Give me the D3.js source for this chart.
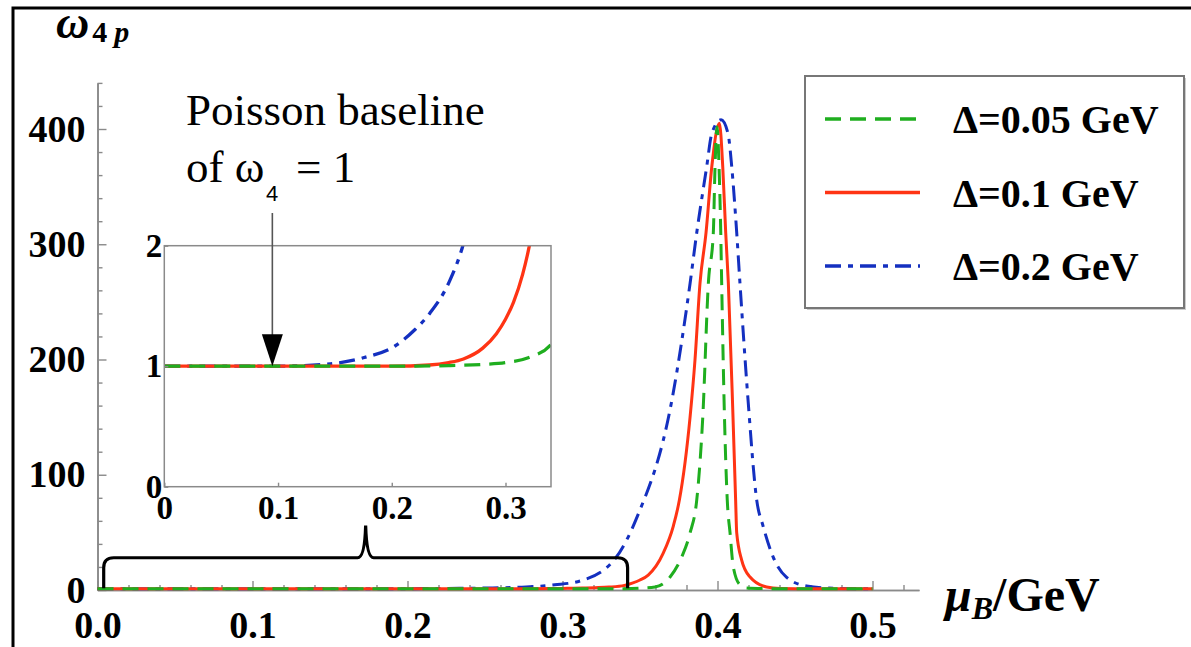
<!DOCTYPE html>
<html>
<head>
<meta charset="utf-8">
<script src="https://cdn.jsdelivr.net/npm/d3@7"></script>
<style>
  body { margin: 0; background: #fff; }
  svg { display: block; }
  text { font-family: "Liberation Serif", "Times New Roman", serif; }
</style>
</head>
<body>
<svg id="chart" width="1191" height="647"></svg>
<script>
// ---- data: fourth-order scaled cumulant omega_4 of the proton vs baryon chemical potential ----
const seriesNames = ["Δ=0.05 GeV", "Δ=0.1 GeV", "Δ=0.2 GeV"];

const muD005 = [0, 0.05, 0.10, 0.15, 0.20, 0.25, 0.28, 0.30, 0.32, 0.34, 0.35, 0.3597, 0.3694, 0.3769, 0.3823, 0.3866,
  0.3905, 0.3941, 0.3973, 0.3984, 0.3997, 0.4010, 0.4021, 0.4027, 0.4045, 0.4063, 0.4081, 0.4102, 0.4145, 0.4188, 0.43, 0.45, 0.50];
const wD005 = [1, 1, 1, 1, 1, 1.005, 1.015, 1.03, 1.07, 1.18, 1.6, 2.6, 11.3, 28.6, 49.5, 78,
  150, 266, 310, 367, 402, 367, 310, 266, 150, 78, 49.5, 20, 4.5, 1.7, 1.2, 1, 1];

const muD01 = [0, 0.05, 0.10, 0.15, 0.20, 0.233, 0.25, 0.263, 0.28, 0.292, 0.30, 0.307, 0.315, 0.321, 0.33, 0.34, 0.345, 0.35,
  0.3553, 0.365, 0.3715, 0.3754, 0.3823, 0.3855, 0.3887, 0.3926, 0.3963, 0.4012, 0.4034, 0.4053, 0.4070, 0.41, 0.4117,
  0.4124, 0.4156, 0.4210, 0.4317, 0.4403, 0.46, 0.50];
const wD01 = [1, 1, 1, 1, 1, 1.01, 1.03, 1.06, 1.15, 1.27, 1.39, 1.53, 1.76, 2.0, 2.5, 4.0, 6.0, 8.7,
  13, 32, 55.5, 78, 150, 200, 266, 310, 367, 405, 367, 310, 266, 150, 78,
  49.5, 26, 11.3, 2.6, 1.3, 1, 1];

const muD02 = [0, 0.05, 0.10, 0.146, 0.175, 0.204, 0.22, 0.2335, 0.251, 0.2625, 0.2765, 0.295, 0.3113, 0.3343, 0.348, 0.3706,
  0.3823, 0.3866, 0.393, 0.3963, 0.4023, 0.4068, 0.4092, 0.4124, 0.4145, 0.4197, 0.4253, 0.4294, 0.4358, 0.4446, 0.4575, 0.479, 0.50];
const wD02 = [1, 1, 1, 1.02, 1.07, 1.175, 1.3, 1.44, 1.71, 2.0, 2.6, 4.5, 7.8, 27.8, 63, 165,
  266, 310, 367, 396, 408, 396, 367, 310, 266, 165, 78, 55.5, 29, 11, 3.5, 1.3, 1];

const seriesColors = ["#1fae1f", "#ff3414", "#1430c0"];
const seriesDashes = ["16,9", null, "16,7,5,7"];

// axis ticks
const xMajorTicks = [0, 0.1, 0.2, 0.3, 0.4, 0.5];
const xTickLabels = ["0.0", "0.1", "0.2", "0.3", "0.4", "0.5"];
const yMajorTicks = [0, 100, 200, 300, 400];
const insetXTicks = [0, 0.1, 0.2, 0.3];
const insetXLabels = ["0", "0.1", "0.2", "0.3"];
const insetYTicks = [0, 1, 2];

// curly brace marking the zoomed range, in data units
const braceFrom = 0.004, braceTo = 0.342, braceMid = 0.173, braceLevel = 28, braceTip = 56, braceFoot = 1.5;
const arrowMu = 0.095, baselineValue = 1;

// ---- layout ----
const svg = d3.select("#chart");

// outer frame
svg.append("rect").attr("x", 13).attr("y", 8).attr("width", 1300).attr("height", 800)
  .attr("fill", "none").attr("stroke", "#000").attr("stroke-width", 3);

const x = d3.scaleLinear().domain([0, 0.53]).range([97.5, 919]);
const y = d3.scaleLinear().domain([0, 440]).range([590, 82.9]);

const series = [
  { name: seriesNames[2], mu: muD02, w: wD02, color: seriesColors[2], dash: seriesDashes[2] },
  { name: seriesNames[1], mu: muD01, w: wD01, color: seriesColors[1], dash: seriesDashes[1] },
  { name: seriesNames[0], mu: muD005, w: wD005, color: seriesColors[0], dash: seriesDashes[0] }
];

const axisColor = "#8a8a8a";
function styleAxis(g) {
  g.selectAll("path.domain").attr("stroke", axisColor).attr("stroke-width", 1.6);
  g.selectAll(".tick line").attr("stroke", axisColor).attr("stroke-width", 1.4);
}
function boldLabels(g, size) {
  g.selectAll("text").attr("fill", "#000").style("font-size", size + "px").style("font-weight", "bold")
    .style("font-family", "'Liberation Serif', serif");
}

// minor ticks
const xMinor = d3.range(0, 0.5301, 0.02).filter(v => !xMajorTicks.some(m => Math.abs(m - v) < 1e-6));
const yMinor = d3.range(0, 441, 20).filter(v => v % 100 !== 0);

svg.append("g").attr("transform", "translate(0,590)")
  .call(d3.axisBottom(x).tickValues(xMinor).tickSize(-5).tickSizeOuter(0).tickFormat(""))
  .call(styleAxis);
svg.append("g").attr("transform", "translate(97.5,0)")
  .call(d3.axisLeft(y).tickValues(yMinor).tickSize(-5).tickSizeOuter(0).tickFormat(""))
  .call(styleAxis);

svg.append("g").attr("transform", "translate(0,590)")
  .call(d3.axisBottom(x).tickValues(xMajorTicks).tickSize(-9).tickSizeOuter(0).tickPadding(21)
    .tickFormat((d, i) => xTickLabels[i]))
  .call(styleAxis).call(g => boldLabels(g, 38));

svg.append("g").attr("transform", "translate(97.5,0)")
  .call(d3.axisLeft(y).tickValues(yMajorTicks).tickSize(-9).tickSizeOuter(0).tickPadding(12))
  .call(styleAxis).call(g => boldLabels(g, 38));

// axis titles
const yTitle = svg.append("text").attr("x", 56).attr("y", 38).attr("fill", "#000").style("font-weight", "bold");
yTitle.append("tspan").text("ω").style("font-size", "46px").style("font-style", "italic");
yTitle.append("tspan").text("4").attr("dx", 3).attr("dy", 4).style("font-size", "30px");
yTitle.append("tspan").text("p").attr("dx", 7).style("font-size", "30px").style("font-style", "italic");

const xTitle = svg.append("text").attr("x", 945).attr("y", 611).attr("fill", "#000").style("font-weight", "bold");
xTitle.append("tspan").text("μ").style("font-size", "48px").style("font-style", "italic");
xTitle.append("tspan").text("B").attr("dy", 8).style("font-size", "32px").style("font-style", "italic");
xTitle.append("tspan").text("/GeV").attr("dy", -8).style("font-size", "48px");

// curves
const line = (sx, sy) => d3.line().x(d => sx(d[0])).y(d => sy(d[1])).curve(d3.curveMonotoneX);
const mainLine = line(x, y);
series.forEach(s => {
  svg.append("path").datum(d3.zip(s.mu, s.w))
    .attr("d", mainLine).attr("fill", "none")
    .attr("stroke", s.color).attr("stroke-width", 3)
    .attr("stroke-dasharray", s.dash);
});

// brace over the low-mu range
const bx0 = x(braceFrom), bx1 = x(braceTo), bxm = x(braceMid);
const byl = y(braceLevel), byt = y(braceTip), byf = y(braceFoot), r = 10;
svg.append("path")
  .attr("d", `M${bx0},${byf} L${bx0},${byl + r} Q${bx0},${byl} ${bx0 + r},${byl} L${bxm - 8},${byl}` +
    ` Q${bxm - 1},${byl} ${bxm},${byt} Q${bxm + 1},${byl} ${bxm + 8},${byl}` +
    ` L${bx1 - r},${byl} Q${bx1},${byl} ${bx1},${byl + r} L${bx1},${byf}`)
  .attr("fill", "none").attr("stroke", "#000").attr("stroke-width", 3.2);

// ---- inset: zoom on the Poisson baseline ----
const ix = d3.scaleLinear().domain([0, 0.34]).range([164.3, 551]);
const iy = d3.scaleLinear().domain([0, 2]).range([486.7, 245.7]);
const iw = ix(0.34) - ix(0), ih = iy(0) - iy(2);

const inset = svg.append("g");
inset.append("rect").attr("x", ix(0)).attr("y", iy(2)).attr("width", iw).attr("height", ih).attr("fill", "#fff");
svg.append("clipPath").attr("id", "insetClip").append("rect")
  .attr("x", ix(0)).attr("y", iy(2)).attr("width", iw).attr("height", ih);

const insetLine = line(ix, iy);
const curves = inset.append("g").attr("clip-path", "url(#insetClip)");
series.forEach(s => {
  curves.append("path").datum(d3.zip(s.mu, s.w))
    .attr("d", insetLine).attr("fill", "none")
    .attr("stroke", s.color).attr("stroke-width", 3.3)
    .attr("stroke-dasharray", s.dash);
});

inset.append("rect").attr("x", ix(0)).attr("y", iy(2)).attr("width", iw).attr("height", ih)
  .attr("fill", "none").attr("stroke", axisColor).attr("stroke-width", 1.5);

inset.append("g").attr("transform", `translate(0,${iy(0)})`)
  .call(d3.axisBottom(ix).tickValues(insetXTicks).tickSize(-4).tickSizeOuter(0).tickPadding(9)
    .tickFormat((d, i) => insetXLabels[i]))
  .call(styleAxis).call(g => g.select("path.domain").remove()).call(g => boldLabels(g, 33));

inset.append("g").attr("transform", `translate(${ix(0)},0)`)
  .call(d3.axisLeft(iy).tickValues(insetYTicks).tickSize(-4).tickSizeOuter(0).tickPadding(2)
    .tickFormat(d3.format("d")))
  .call(styleAxis).call(g => g.select("path.domain").remove()).call(g => boldLabels(g, 33));

// annotation: Poisson baseline arrow
const ax = ix(arrowMu), tipY = iy(baselineValue);
svg.append("line").attr("x1", ax).attr("x2", ax).attr("y1", 213).attr("y2", tipY - 30)
  .attr("stroke", "#555").attr("stroke-width", 1.6);
svg.append("path").attr("d", `M${ax - 10.5},${tipY - 32} L${ax + 10.5},${tipY - 32} L${ax},${tipY} Z`).attr("fill", "#000");

svg.append("text").attr("x", 186).attr("y", 125).style("font-size", "45px").attr("fill", "#000").text("Poisson baseline");
svg.append("text").attr("x", 186).attr("y", 182).style("font-size", "45px").attr("fill", "#000").text("of ω");
svg.append("text").attr("x", 266).attr("y", 201).style("font-size", "22px")
  .style("font-family", "'Liberation Sans', Arial, sans-serif").attr("fill", "#000").text("4");
svg.append("text").attr("x", 296).attr("y", 182).style("font-size", "45px").attr("fill", "#000").text("= 1");

// ---- legend ----
const legend = svg.append("g");
legend.append("rect").attr("x", 807).attr("y", 78).attr("width", 379).attr("height", 232).attr("fill", "#ccc");
legend.append("rect").attr("x", 805).attr("y", 76).attr("width", 379).attr("height", 232)
  .attr("fill", "#fff").attr("stroke", "#777").attr("stroke-width", 2);
const legendRows = [series[2], series[1], series[0]];
const rowY = d3.scalePoint().domain(legendRows.map(s => s.name)).range([119, 266]);
legendRows.forEach(s => {
  const ry = rowY(s.name);
  legend.append("line").attr("x1", 825).attr("x2", 920).attr("y1", ry).attr("y2", ry)
    .attr("stroke", s.color).attr("stroke-width", 3.5).attr("stroke-dasharray", s.dash);
  legend.append("text").attr("x", 953).attr("y", ry + 14).attr("fill", "#000")
    .style("font-size", "40px").style("font-weight", "bold").text(s.name);
});
</script>
</body>
</html>
